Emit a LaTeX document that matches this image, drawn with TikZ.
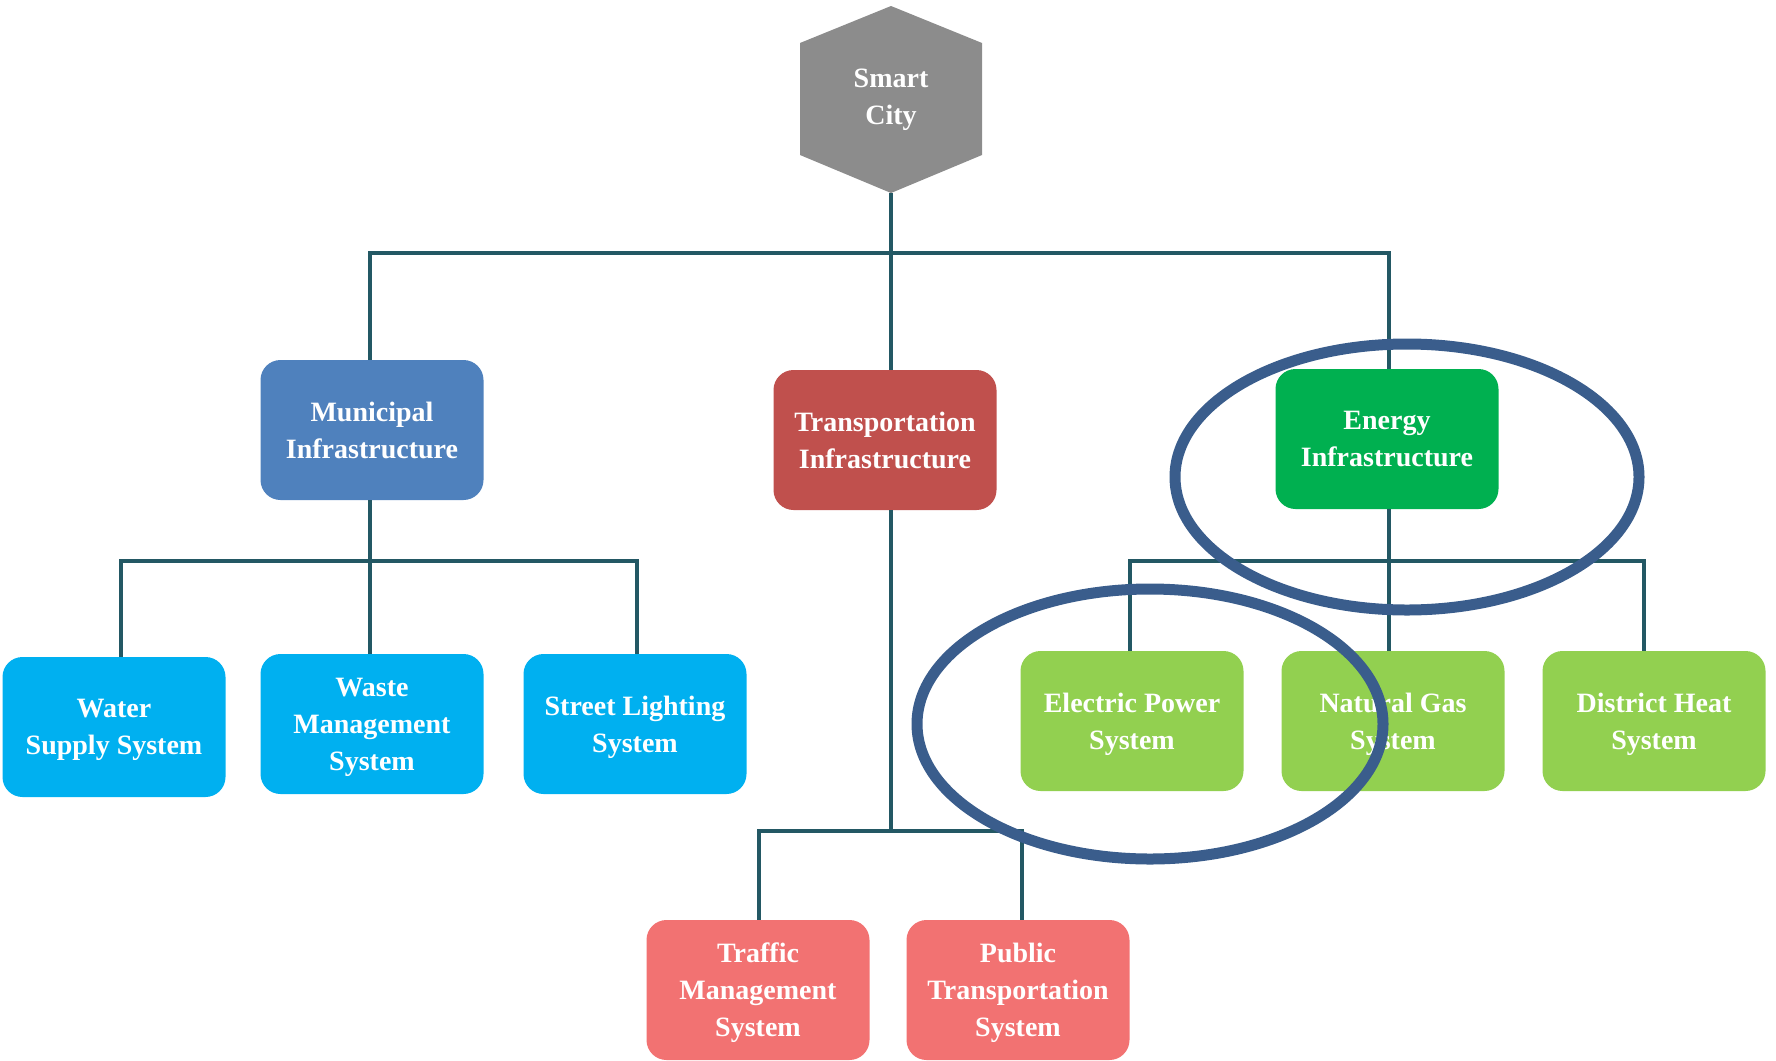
\documentclass[tikz,border=0pt]{standalone}
\usepackage{fontspec}
\setmainfont{Liberation Serif}[BoldFont={Liberation Serif Bold}]
\usepackage{tikz}
\usetikzlibrary{positioning}
\usetikzlibrary{calc}

\definecolor{hexgray}{HTML}{8C8C8C}
\definecolor{muniblue}{HTML}{4F81BD}
\definecolor{transred}{HTML}{C0504D}
\definecolor{energygreen}{HTML}{00B050}
\definecolor{skyblue}{HTML}{00B0F0}
\definecolor{limegreen}{HTML}{92D050}
\definecolor{salmon}{HTML}{F27272}
\definecolor{linkteal}{HTML}{235864}
\definecolor{ringblue}{HTML}{3A5D8C}

\begin{document}
\begin{tikzpicture}[x=1pt, y=-1pt,
        on grid,
        every node/.style={text=white, align=center, text depth=0pt,
          font=\bfseries\fontsize{28}{37}\selectfont},
        box/.style={rounded corners=20pt, minimum width=223pt,
          minimum height=140pt, inner sep=0pt},
        link/.style={draw=linkteal, line width=4.5pt},
        ring/.style={draw=ringblue, line width=11pt}]

      \useasboundingbox (0,0) rectangle (1776,1060);

      % top of the tree
      \coordinate (hexbot) at (891,193);
      \fill[hexgray] (891,6) -- (982,43) -- (982,155) -- (hexbot)
        -- (800,155) -- (800,43) -- cycle;
      \node (city) at (891,97) {Smart\\City};

      \node[box, fill=muniblue]    (muni)   at (372,430)  {Municipal\\Infrastructure};
      \node[box, fill=transred]    (trans)  at (885,440)  {Transportation\\Infrastructure};
      \node[box, fill=energygreen] (energy) at (1387,439) {Energy\\Infrastructure};

      % municipal systems
      \node[box, fill=skyblue] (water)  [below left=297pt and 258pt of muni]  {Water\\Supply System};
      \node[box, fill=skyblue] (waste)  [below=294pt of muni]                 {Waste\\Management\\System};
      \node[box, fill=skyblue] (street) [below right=294pt and 263pt of muni] {Street Lighting\\System};

      % energy systems
      \node[box, fill=limegreen] (elec)     [below left=282pt and 255pt of energy]  {Electric Power\\System};
      \node[box, fill=limegreen] (gas)      [below right=282pt and 6pt of energy]   {Natural Gas\\System};
      \node[box, fill=limegreen] (district) [below right=282pt and 267pt of energy] {District Heat\\System};

      % transportation systems
      \node[box, fill=salmon] (traffic) [below left=550pt and 127pt of trans]  {Traffic\\Management\\System};
      \node[box, fill=salmon] (public)  [below right=550pt and 133pt of trans] {Public\\Transportation\\System};

      \coordinate (cbus) at (891,253);
      \coordinate (mbus) at (370,561);
      \coordinate (ebus) at (1389,561);
      \coordinate (tbus) at (891,831);

      \path[link]
      (hexbot) -- (hexbot |- trans.north)
      (muni.north -| 370,0) |- (cbus) -| (energy.north -| 1389,0)
      (muni.south -| mbus) -- (waste.north -| mbus)
      (water.north -| 121,0) |- (mbus) -| (street.north -| 637,0)
      (energy.south -| ebus) -- (gas.north -| ebus)
      (elec.north -| 1130,0) |- (ebus) -| (district.north -| 1644,0)
      (trans.south -| tbus) -- (tbus)
      (traffic.north -| 759,0) |- (tbus) -| (public.north -| 1022,0);

      % highlight rings
      \draw[ring] (1407,477) ellipse [x radius=232pt, y radius=133pt];
      \draw[ring] (1150,724) ellipse [x radius=233pt, y radius=135pt];

\end{tikzpicture}
\end{document}
